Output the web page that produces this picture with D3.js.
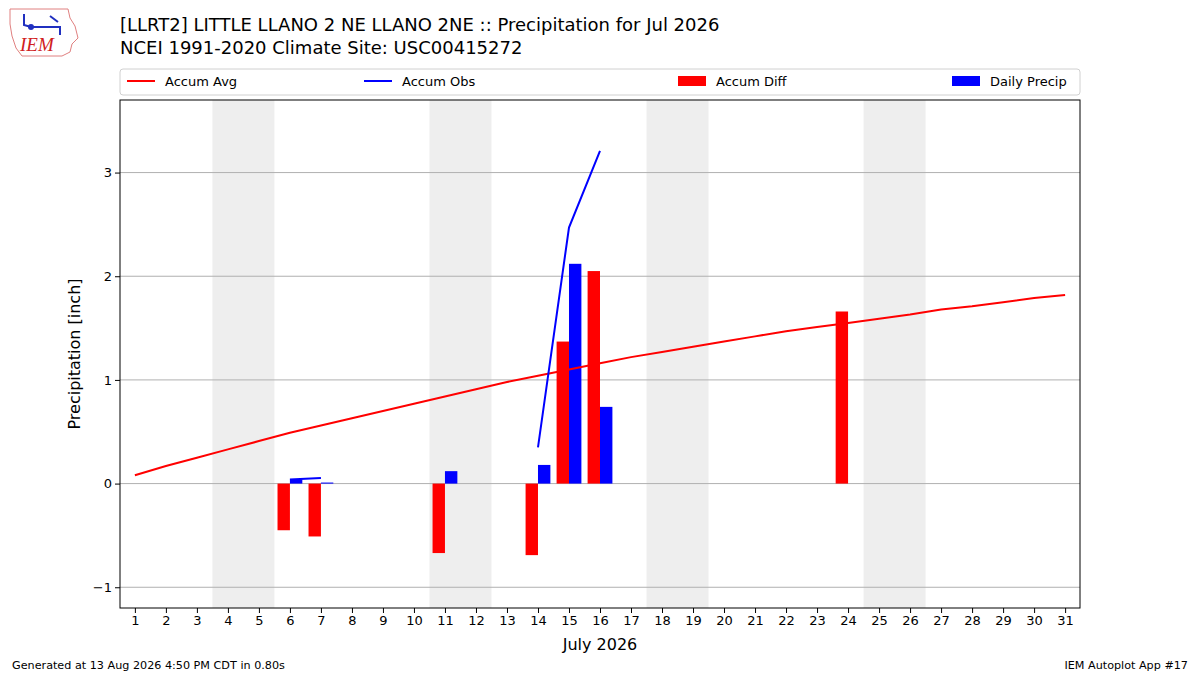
<!DOCTYPE html>
<html><head><meta charset="utf-8">
<script src="https://cdn.jsdelivr.net/npm/d3@7"></script>
<style>body{margin:0;background:#fff;font-family:"DejaVu Sans",sans-serif;}</style>
</head><body>
<svg id="c" width="1200" height="675"></svg>
<script>
var days = d3.range(1, 32);
var accumAvg = [0.08,0.17,0.25,0.33,0.41,0.49,0.56,0.63,0.70,0.77,0.84,0.91,0.98,1.04,1.10,1.16,1.22,1.27,1.32,1.37,1.42,1.47,1.51,1.55,1.59,1.63,1.68,1.71,1.75,1.79,1.82];
var accumObs = [null,null,null,null,null,0.04,0.055,null,null,null,0.17,null,null,0.35,2.47,3.21,null,null,null,null,null,null,null,null,null,null,null,null,null,null,null];
var accumDiff = [null,null,null,null,null,-0.45,-0.51,null,null,null,-0.67,null,null,-0.69,1.37,2.05,null,null,null,null,null,null,null,1.66,null,null,null,null,null,null,null];
var dailyPrecip = [null,null,null,null,null,0.04,0.01,null,null,null,0.12,null,null,0.18,2.12,0.74,null,null,null,null,null,null,null,null,null,null,null,null,null,null,null];
var weekends = [[3.5,5.5],[10.5,12.5],[17.5,19.5],[24.5,26.5]];
var yTicks = [-1, 0, 1, 2, 3];

var svg = d3.select("#c");
var m = {left:120, right:1080, top:100, bottom:608};
var x = d3.scaleLinear().domain([0.52, 31.48]).range([m.left, m.right]);
var y = d3.scaleLinear().domain([-1.2, 3.70]).range([m.bottom, m.top]);

// weekend shading
svg.selectAll("rect.we").data(weekends).enter().append("rect")
	.attr("x", function(d){ return x(d[0]); })
	.attr("width", function(d){ return x(d[1]) - x(d[0]); })
	.attr("y", m.top).attr("height", m.bottom - m.top)
	.attr("fill", "#eeeeee");

// grid
svg.selectAll("line.g").data(yTicks).enter().append("line")
	.attr("x1", m.left).attr("x2", m.right)
	.attr("y1", function(d){ return y(d); }).attr("y2", function(d){ return y(d); })
	.attr("stroke", "#b0b0b0").attr("stroke-width", 1);

// bars
var bw = 0.4;
svg.selectAll("rect.diff").data(days.filter(function(d){ return accumDiff[d-1] !== null; })).enter().append("rect")
	.attr("x", function(d){ return x(d - bw); })
	.attr("width", x(bw) - x(0))
	.attr("y", function(d){ return y(Math.max(0, accumDiff[d-1])); })
	.attr("height", function(d){ return Math.abs(y(accumDiff[d-1]) - y(0)); })
	.attr("fill", "red");
svg.selectAll("rect.daily").data(days.filter(function(d){ return dailyPrecip[d-1] !== null; })).enter().append("rect")
	.attr("x", function(d){ return x(d); })
	.attr("width", x(bw) - x(0))
	.attr("y", function(d){ return y(dailyPrecip[d-1]); })
	.attr("height", function(d){ return y(0) - y(dailyPrecip[d-1]); })
	.attr("fill", "blue");

// lines
var lineAvg = d3.line().x(function(d){ return x(d); }).y(function(d){ return y(accumAvg[d-1]); });
svg.append("path").datum(days).attr("d", lineAvg).attr("fill", "none").attr("stroke", "red").attr("stroke-width", 2);
var lineObs = d3.line().defined(function(d){ return accumObs[d-1] !== null; })
	.x(function(d){ return x(d); }).y(function(d){ return y(accumObs[d-1]); });
svg.append("path").datum(days).attr("d", lineObs).attr("fill", "none").attr("stroke", "blue").attr("stroke-width", 2);

// frame
svg.append("rect").attr("x", m.left).attr("y", m.top).attr("width", m.right - m.left).attr("height", m.bottom - m.top)
	.attr("fill", "none").attr("stroke", "#000").attr("stroke-width", 1);

// axes
var xAxis = d3.axisBottom(x).tickValues(days).tickSize(5).tickSizeOuter(0).tickFormat(d3.format("d"));
var gx = svg.append("g").attr("transform", "translate(0," + m.bottom + ")").call(xAxis);
gx.select(".domain").remove();
gx.selectAll("text").attr("font-size", 13).attr("font-family", "DejaVu Sans").attr("fill", "#000");
var yAxis = d3.axisLeft(y).tickValues(yTicks).tickSize(5).tickFormat(function(d){ return d < 0 ? "\u2212" + (-d) : d; });
var gy = svg.append("g").attr("transform", "translate(" + m.left + ",0)").call(yAxis);
gy.select(".domain").remove();
gy.selectAll("text").attr("font-size", 13).attr("font-family", "DejaVu Sans").attr("fill", "#000");

svg.append("text").attr("x", 600).attr("y", 650).attr("text-anchor", "middle").attr("font-size", 16).text("July 2026");
svg.append("text").attr("transform", "translate(80,354) rotate(-90)").attr("text-anchor", "middle").attr("font-size", 16).text("Precipitation [inch]");

// titles
svg.append("text").attr("x", 120).attr("y", 31).attr("font-size", 18).text("[LLRT2] LITTLE LLANO 2 NE LLANO 2NE :: Precipitation for Jul 2026");
svg.append("text").attr("x", 120).attr("y", 54).attr("font-size", 18).text("NCEI 1991-2020 Climate Site: USC00415272");

// legend
var lg = svg.append("g");
lg.append("rect").attr("x", 120).attr("y", 69).attr("width", 960).attr("height", 26).attr("rx", 3)
	.attr("fill", "#fff").attr("stroke", "#d0d0d0");
var items = [
	{x:127, label:"Accum Avg", type:"line", color:"red"},
	{x:364, label:"Accum Obs", type:"line", color:"blue"},
	{x:678, label:"Accum Diff", type:"rect", color:"red"},
	{x:952, label:"Daily Precip", type:"rect", color:"blue"}
];
items.forEach(function(it){
	if(it.type === "line") lg.append("line").attr("x1", it.x).attr("x2", it.x + 28).attr("y1", 81).attr("y2", 81).attr("stroke", it.color).attr("stroke-width", 2);
	else lg.append("rect").attr("x", it.x).attr("y", 76).attr("width", 28).attr("height", 10).attr("fill", it.color);
	lg.append("text").attr("x", it.x + 38).attr("y", 86).attr("font-size", 13).text(it.label);
});

// footer
svg.append("text").attr("x", 12).attr("y", 669).attr("font-size", 11.2).text("Generated at 13 Aug 2026 4:50 PM CDT in 0.80s");
svg.append("text").attr("x", 1188).attr("y", 669).attr("text-anchor", "end").attr("font-size", 11.2).text("IEM Autoplot App #17");

// logo
var logo = svg.append("g");
logo.append("path").attr("d", "M10,9 L68,9 L70,18 L75,26 L78,38 L72,44 L70,52 L62,56 L22,56 L16,48 L12,36 L10,24 Z")
	.attr("fill", "#fff").attr("stroke", "#e08080").attr("stroke-width", 1);
logo.append("text").attr("x", 20).attr("y", 51).attr("font-family", "Liberation Serif").attr("font-style", "italic")
	.attr("font-size", 19).attr("fill", "#d02020").text("IEM");
logo.append("path").attr("d", "M24,14 L24,25 L31,27 L60,27 M30,27 L60,27 L60,35 M50,16 L58,22").attr("fill", "none").attr("stroke", "#2030c0").attr("stroke-width", 2);
logo.append("circle").attr("cx", 31).attr("cy", 27).attr("r", 3).attr("fill", "#2030c0");
</script>
</body></html>
